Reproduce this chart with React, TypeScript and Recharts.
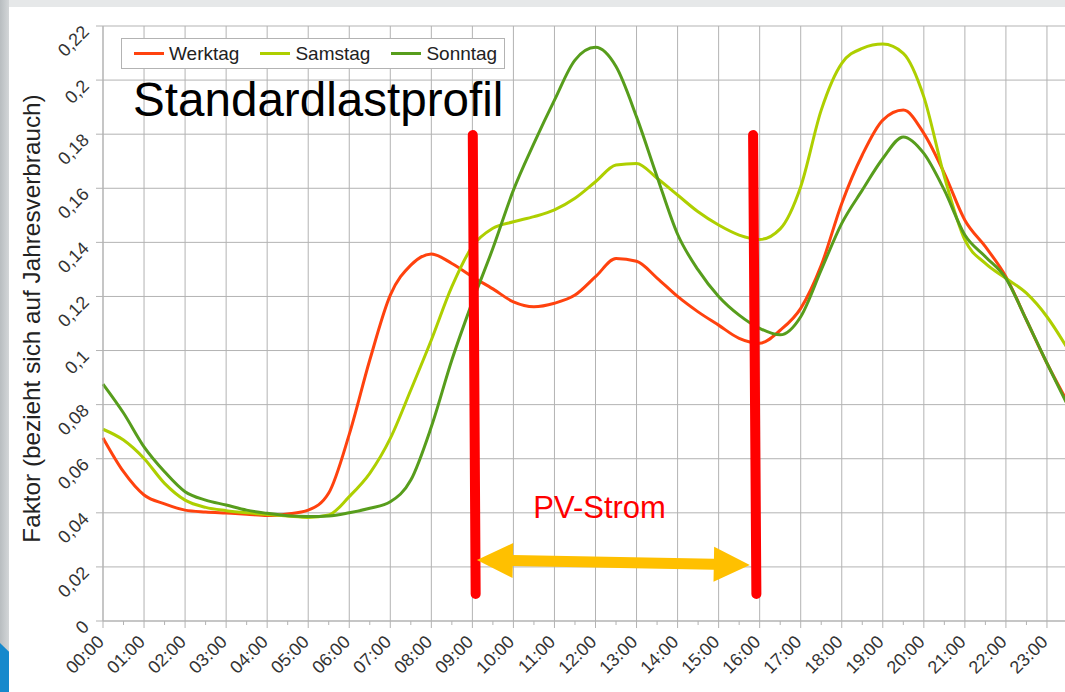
import React from 'react';
import { LineChart, Line, XAxis, YAxis, CartesianGrid, ReferenceLine, ReferenceDot } from 'recharts';

// half-hour sample times
const times = [
  '00:00', '00:30', '01:00', '01:30', '02:00', '02:30', '03:00', '03:30',
  '04:00', '04:30', '05:00', '05:30', '06:00', '06:30', '07:00', '07:30',
  '08:00', '08:30', '09:00', '09:30', '10:00', '10:30', '11:00', '11:30',
  '12:00', '12:30', '13:00', '13:30', '14:00', '14:30', '15:00', '15:30',
  '16:00', '16:30', '17:00', '17:30', '18:00', '18:30', '19:00', '19:30',
  '20:00', '20:30', '21:00', '21:30', '22:00', '22:30', '23:00', '23:30',
];

const werktag = [
  0.0677, 0.0552, 0.0466, 0.0433, 0.041, 0.0403, 0.0399, 0.0395,
  0.039, 0.0396, 0.041, 0.0473, 0.069, 0.0965, 0.1205, 0.1316,
  0.1357, 0.1322, 0.1273, 0.1228, 0.118, 0.1162, 0.1175, 0.1205,
  0.1273, 0.134, 0.133, 0.1268, 0.12, 0.1143, 0.1094, 0.1045,
  0.1027, 0.1075, 0.1156, 0.1315, 0.1544, 0.1723, 0.1852, 0.1889,
  0.1803, 0.1655, 0.1482, 0.1384, 0.1273, 0.1113, 0.0953, 0.081,
];

const samstag = [
  0.0709, 0.0669, 0.0601, 0.0509, 0.0447, 0.042, 0.0408, 0.04,
  0.0394, 0.0388, 0.0383, 0.0392, 0.046, 0.0546, 0.0675, 0.0854,
  0.1039, 0.1236, 0.1385, 0.1452, 0.1476, 0.1495, 0.152, 0.1563,
  0.1624, 0.1686, 0.1692, 0.1637, 0.1575, 0.1513, 0.1464, 0.1427,
  0.1411, 0.145, 0.1606, 0.1889, 0.2062, 0.2117, 0.2133, 0.2099,
  0.1938, 0.1643, 0.1409, 0.1322, 0.1267, 0.1212, 0.1125, 0.1008,
];

const sonntag = [
  0.0876, 0.0769, 0.0644, 0.0552, 0.0478, 0.0447, 0.0429, 0.041,
  0.0398, 0.0389, 0.0386, 0.0388, 0.04, 0.0417, 0.0441, 0.0521,
  0.0718, 0.0965, 0.118, 0.1378, 0.1593, 0.1766, 0.1926, 0.2074,
  0.2121, 0.205, 0.1864, 0.1643, 0.143, 0.1298, 0.12, 0.1131,
  0.1082, 0.1058, 0.1125, 0.1298, 0.147, 0.1593, 0.171, 0.179,
  0.1729, 0.1593, 0.1427, 0.1347, 0.1267, 0.1113, 0.0953, 0.0799,
];

const hourLabels = [
  '00:00', '01:00', '02:00', '03:00', '04:00', '05:00', '06:00', '07:00',
  '08:00', '09:00', '10:00', '11:00', '12:00', '13:00', '14:00', '15:00',
  '16:00', '17:00', '18:00', '19:00', '20:00', '21:00', '22:00', '23:00',
];

const yTicks = [0, 0.02, 0.04, 0.06, 0.08, 0.1, 0.12, 0.14, 0.16, 0.18, 0.2, 0.22];

const seriesKeys = ['werktag', 'samstag', 'sonntag'];
const seriesNames = ['Werktag', 'Samstag', 'Sonntag'];
const seriesColors = ['#ff420e', '#aecf00', '#579d1c'];

// annotations (hour, value)
const pvBars = [
  { top: [9.01, 0.1797], bottom: [9.08, 0.01] },
  { top: [15.84, 0.1797], bottom: [15.92, 0.01] },
];
const pvArrow = { from: [9.11, 0.0226], to: [15.76, 0.0207] };
const pvLabel = { text: 'PV-Strom', at: [12.1, 0.0381] };

const chartTitle = 'Standardlastprofil';
const yTitle = 'Faktor (bezieht sich auf Jahresverbrauch)';

const toHours = (t: string) => {
  const [h, m] = t.split(':').map(Number);
  return h + m / 60;
};

const data = times.map((t, i) => ({
  h: toHours(t),
  werktag: werktag[i],
  samstag: samstag[i],
  sonntag: sonntag[i],
}));

const xTicks = times.map(toHours);
const gridHours = hourLabels.map((_, i) => i).concat(24);

const FONT = '"Liberation Sans", Arial, sans-serif';
const GRID = '#b3b3b3';

const fmtY = (v: number) => (v === 0 ? '0' : String(+v.toFixed(2)).replace('.', ','));

const YTick = ({ x, y, payload }: any) => {
  const px = x - 4;
  const py = y + 7;
  return (
    <text x={px} y={py} transform={`rotate(-45 ${px} ${py})`} textAnchor="end" fontSize={18} fill="#333" fontFamily={FONT}>
      {fmtY(payload.value)}
    </text>
  );
};

const XTick = ({ x, y, payload }: any) => {
  const v = payload.value;
  const major = Math.abs(v - Math.round(v)) < 1e-6;
  const px = x + 2;
  const py = y + 22;
  return (
    <g>
      <line x1={x} y1={y} x2={x} y2={y + (major ? 7 : 4)} stroke={GRID} />
      {major && (
        <text x={px} y={py} transform={`rotate(-45 ${px} ${py})`} textAnchor="end" fontSize={18} fill="#333" fontFamily={FONT}>
          {hourLabels[Math.round(v)]}
        </text>
      )}
    </g>
  );
};

const YTitle = ({ viewBox }: any) => {
  const tx = viewBox.x + 40;
  const ty = viewBox.y + viewBox.height / 2 - 5;
  return (
    <text x={tx} y={ty} transform={`rotate(-90 ${tx} ${ty})`} textAnchor="middle" fontSize={24.3} fill="#222" fontFamily={FONT}>
      {yTitle}
    </text>
  );
};

const Bar = ({ x1, y1, x2, y2 }: any) => (
  <line x1={x1} y1={y1} x2={x2} y2={y2} stroke="#ff0000" strokeWidth={10} strokeLinecap="round" />
);

const DoubleArrow = ({ x1, y1, x2, y2 }: any) => {
  const dx = x2 - x1;
  const dy = y2 - y1;
  const len = Math.hypot(dx, dy) || 1;
  const ux = dx / len;
  const uy = dy / len;
  const nx = -uy;
  const ny = ux;
  const H = 36;
  const W = 17.5;
  const S = 5.5;
  const p = (bx: number, by: number, u: number, n: number) => `${bx + ux * u + nx * n},${by + uy * u + ny * n}`;
  const pts = [
    `${x1},${y1}`,
    p(x1, y1, H, W),
    p(x1, y1, H, S),
    p(x2, y2, -H, S),
    p(x2, y2, -H, W),
    `${x2},${y2}`,
    p(x2, y2, -H, -W),
    p(x2, y2, -H, -S),
    p(x1, y1, H, -S),
    p(x1, y1, H, -W),
  ].join(' ');
  return <polygon points={pts} fill="#ffc000" />;
};

const PvText = ({ cx, cy }: any) => (
  <text x={cx} y={cy} textAnchor="middle" fontSize={31} fill="#ff0000" fontFamily={FONT}>
    {pvLabel.text}
  </text>
);

export default function App() {
  return (
    <div style={{ position: 'fixed', left: 0, top: 0, width: 1065, height: 692, overflow: 'hidden', background: '#fff', fontFamily: FONT }}>
      <div style={{ position: 'absolute', left: 0, top: 0, width: 1065, height: 7, background: '#e6e8e9' }} />
      <div style={{ position: 'absolute', left: 0, top: 0, width: 9, height: 692, background: 'linear-gradient(to right, #b8bdc0, #d3d6d8)' }} />
      <div style={{ position: 'absolute', left: 0, top: 643, width: 9, height: 49, background: '#1689cc', clipPath: 'polygon(0 0, 100% 18%, 100% 100%, 0 100%)' }} />

      <div style={{ position: 'absolute', left: 0, top: 0 }}>
        <LineChart width={1100} height={692} data={data} margin={{ top: 26, right: 12, left: 0, bottom: 0 }}>
          <CartesianGrid vertical={false} stroke={GRID} />
          {gridHours.map((h) => (
            <ReferenceLine key={h} x={h} stroke={GRID} ifOverflow="extendDomain" />
          ))}
          <XAxis
            dataKey="h"
            type="number"
            domain={[0, 24]}
            ticks={xTicks}
            interval={0}
            tick={<XTick />}
            tickLine={false}
            tickSize={0}
            tickMargin={0}
            axisLine={{ stroke: GRID }}
            height={71}
          />
          <YAxis
            type="number"
            domain={[0, 0.22]}
            ticks={yTicks}
            interval={0}
            tick={<YTick />}
            tickSize={7}
            tickMargin={2}
            tickLine={{ stroke: GRID }}
            axisLine={{ stroke: GRID }}
            width={103}
            label={<YTitle />}
          />
          {seriesKeys.map((k, i) => (
            <Line
              key={k}
              dataKey={k}
              name={seriesNames[i]}
              type="monotone"
              stroke={seriesColors[i]}
              strokeWidth={3}
              dot={false}
              activeDot={false}
              isAnimationActive={false}
            />
          ))}
          {pvBars.map((b, i) => (
            <ReferenceLine
              key={'bar' + i}
              segment={[{ x: b.top[0], y: b.top[1] }, { x: b.bottom[0], y: b.bottom[1] }]}
              shape={<Bar />}
            />
          ))}
          <ReferenceLine
            segment={[{ x: pvArrow.from[0], y: pvArrow.from[1] }, { x: pvArrow.to[0], y: pvArrow.to[1] }]}
            shape={<DoubleArrow />}
          />
          <ReferenceDot x={pvLabel.at[0]} y={pvLabel.at[1]} r={0} shape={<PvText />} />
        </LineChart>
      </div>

      <div style={{ position: 'absolute', left: 133, top: 76, fontSize: 47.6, lineHeight: '47px', color: '#000', whiteSpace: 'nowrap' }}>
        {chartTitle}
      </div>

      <div
        style={{
          position: 'absolute', left: 121, top: 38, width: 384, height: 31, boxSizing: 'border-box',
          border: `1px solid ${GRID}`, background: '#fff', display: 'flex', alignItems: 'center', paddingLeft: 12,
        }}
      >
        {seriesNames.map((n, i) => (
          <div key={n} style={{ display: 'flex', alignItems: 'center', marginRight: 21 }}>
            <span style={{ display: 'inline-block', width: 30, height: 3, background: seriesColors[i], marginRight: 5 }} />
            <span style={{ fontSize: 19, color: '#222', lineHeight: '20px' }}>{n}</span>
          </div>
        ))}
      </div>
    </div>
  );
}
